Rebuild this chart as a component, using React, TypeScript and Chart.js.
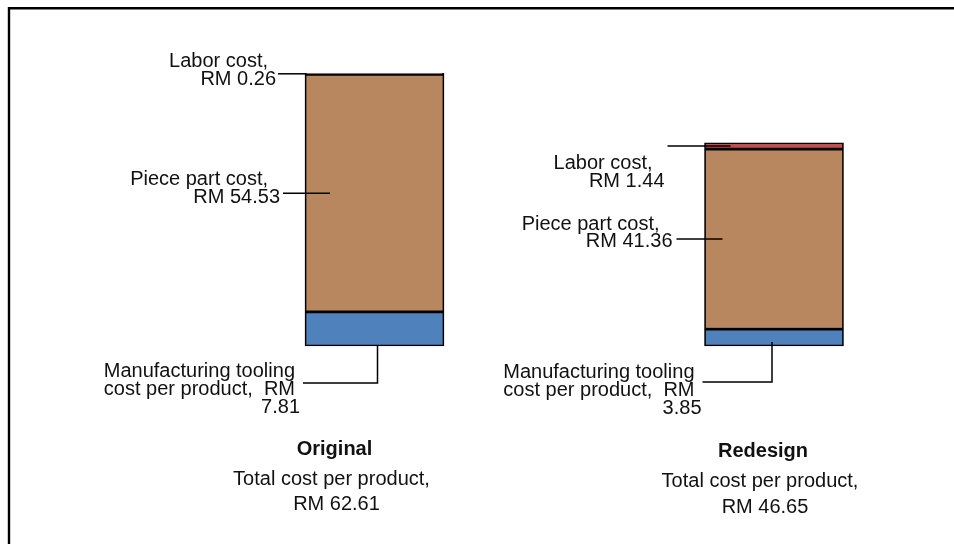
import React, { useEffect, useRef } from "react";
import { Chart, registerables } from "chart.js";

Chart.register(...registerables);

// Cost breakdown per product (RM)
const categories = ["Original", "Redesign"];
const toolingCost = [7.81, 3.85];
const piecePartCost = [54.53, 41.36];
const laborCost = [0.26, 1.44];
const totalCost = [62.61, 46.65];

const W = 954;
const H = 544;
const FONT = '"Liberation Sans", Arial, Helvetica, sans-serif';
const TEXT = "#111";

// Callout placement relative to each bar (left edge / centre / base)
const LAYOUT = [
  {
    labor: { x1: -27, x2: 0, lines: [{ dx: -37, dy: -6.5 }, { dx: -29, dy: 11.5 }] },
    piece: { x1: -22, x2: 25, lines: [{ dx: -37, dy: -8 }, { dx: -25, dy: 10 }] },
    tooling: { vx: 3, vStart: 0, hy: 37, hx: -2, lines: [{ dx: -10, dy: 31 }, { dx: -10, dy: 49 }, { dx: -5, dy: 67 }] },
    title: { dx: -40, dy: [109, 139, 164] },
  },
  {
    labor: { x1: -37, x2: 26, lines: [{ dx: -52, dy: 23 }, { dx: -40, dy: 41 }] },
    piece: { x1: -28, x2: 18, lines: [{ dx: -45, dy: -9 }, { dx: -32, dy: 8 }] },
    tooling: { vx: -2, vStart: -4, hy: 36, hx: -2, lines: [{ dx: -10, dy: 32 }, { dx: -10, dy: 50 }, { dx: -3, dy: 68 }] },
    title: { dx: -11, dy: [111, 141, 167] },
  },
];

const fmt = (v: number) => v.toFixed(2);

function text(ctx: CanvasRenderingContext2D, s: string, x: number, y: number, align: CanvasTextAlign, font: string) {
  ctx.font = font;
  ctx.textAlign = align;
  ctx.textBaseline = "alphabetic";
  ctx.fillStyle = TEXT;
  ctx.fillText(s, x, y);
}

function line(ctx: CanvasRenderingContext2D, pts: number[][]) {
  ctx.beginPath();
  ctx.moveTo(pts[0][0], pts[0][1]);
  for (let i = 1; i < pts.length; i++) ctx.lineTo(pts[i][0], pts[i][1]);
  ctx.stroke();
}

const calloutPlugin = {
  id: "callouts",
  beforeDraw(chart: any) {
    const ctx: CanvasRenderingContext2D = chart.ctx;
    ctx.save();
    ctx.fillStyle = "#fff";
    ctx.fillRect(0, 0, chart.width, chart.height);
    ctx.strokeStyle = "#000";
    ctx.lineWidth = 2.4;
    line(ctx, [[9, H], [9, 8.2], [W, 8.2]]);
    ctx.restore();
  },
  afterDatasetsDraw(chart: any) {
    const ctx: CanvasRenderingContext2D = chart.ctx;
    const annFont = `20px ${FONT}`;
    ctx.save();
    ctx.strokeStyle = "#000";
    ctx.lineWidth = 1.5;
    categories.forEach((cat, i) => {
      const lay = LAYOUT[i];
      const tool = chart.getDatasetMeta(0).data[i];
      const piece = chart.getDatasetMeta(1).data[i];
      const labor = chart.getDatasetMeta(2).data[i];
      const cx = tool.x;
      const left = cx - tool.width / 2;
      const base = tool.base;

      // labor cost
      const ly = (labor.y + labor.base) / 2;
      line(ctx, [[left + lay.labor.x1, ly], [left + lay.labor.x2, ly]]);
      text(ctx, "Labor cost,", left + lay.labor.lines[0].dx, ly + lay.labor.lines[0].dy, "right", annFont);
      text(ctx, `RM ${fmt(laborCost[i])}`, left + lay.labor.lines[1].dx, ly + lay.labor.lines[1].dy, "right", annFont);

      // piece part cost
      const py = (piece.y + piece.base) / 2;
      line(ctx, [[left + lay.piece.x1, py], [left + lay.piece.x2, py]]);
      text(ctx, "Piece part cost,", left + lay.piece.lines[0].dx, py + lay.piece.lines[0].dy, "right", annFont);
      text(ctx, `RM ${fmt(piecePartCost[i])}`, left + lay.piece.lines[1].dx, py + lay.piece.lines[1].dy, "right", annFont);

      // manufacturing tooling cost
      const t = lay.tooling;
      line(ctx, [[cx + t.vx, base + t.vStart], [cx + t.vx, base + t.hy], [left + t.hx, base + t.hy]]);
      text(ctx, "Manufacturing tooling", left + t.lines[0].dx, base + t.lines[0].dy, "right", annFont);
      text(ctx, "cost per product,  RM", left + t.lines[1].dx, base + t.lines[1].dy, "right", annFont);
      text(ctx, fmt(toolingCost[i]), left + t.lines[2].dx, base + t.lines[2].dy, "right", annFont);

      // title and total
      const tx = cx + lay.title.dx;
      text(ctx, cat, tx, base + lay.title.dy[0], "center", `bold 20px ${FONT}`);
      text(ctx, "Total cost per product,", tx - 3, base + lay.title.dy[1], "center", `20px ${FONT}`);
      text(ctx, `RM ${fmt(totalCost[i])}`, tx + 2, base + lay.title.dy[2], "center", `20px ${FONT}`);
    });
    ctx.restore();
  },
};

export default function App() {
  const ref = useRef<HTMLCanvasElement | null>(null);

  useEffect(() => {
    if (!ref.current) return;
    const common = {
      borderColor: "#000",
      borderWidth: 1.7,
      borderSkipped: false,
      barThickness: 139,
      clip: false as const,
      stack: "cost",
    };
    const chart = new Chart(ref.current, {
      type: "bar",
      data: {
        labels: categories,
        datasets: [
          { label: "Manufacturing tooling cost", data: toolingCost, backgroundColor: "#4F81BD", ...common },
          { label: "Piece part cost", data: piecePartCost, backgroundColor: "#B8875F", ...common },
          { label: "Labor cost", data: laborCost, backgroundColor: "#C0504D", ...common },
        ],
      },
      options: {
        responsive: false,
        animation: false,
        devicePixelRatio: 1,
        layout: { padding: { left: 374.5, right: 180, top: 41, bottom: 198 } },
        plugins: { legend: { display: false }, tooltip: { enabled: false } },
        scales: {
          x: { display: false, stacked: true, offset: false },
          y: { display: false, stacked: true, min: 0, max: 70 },
        },
      },
      plugins: [calloutPlugin],
    });
    return () => chart.destroy();
  }, []);

  return (
    <div style={{ position: "fixed", left: 0, top: 0, width: W, height: H, background: "#fff" }}>
      <canvas ref={ref} width={W} height={H} style={{ display: "block", width: W, height: H }} />
    </div>
  );
}
